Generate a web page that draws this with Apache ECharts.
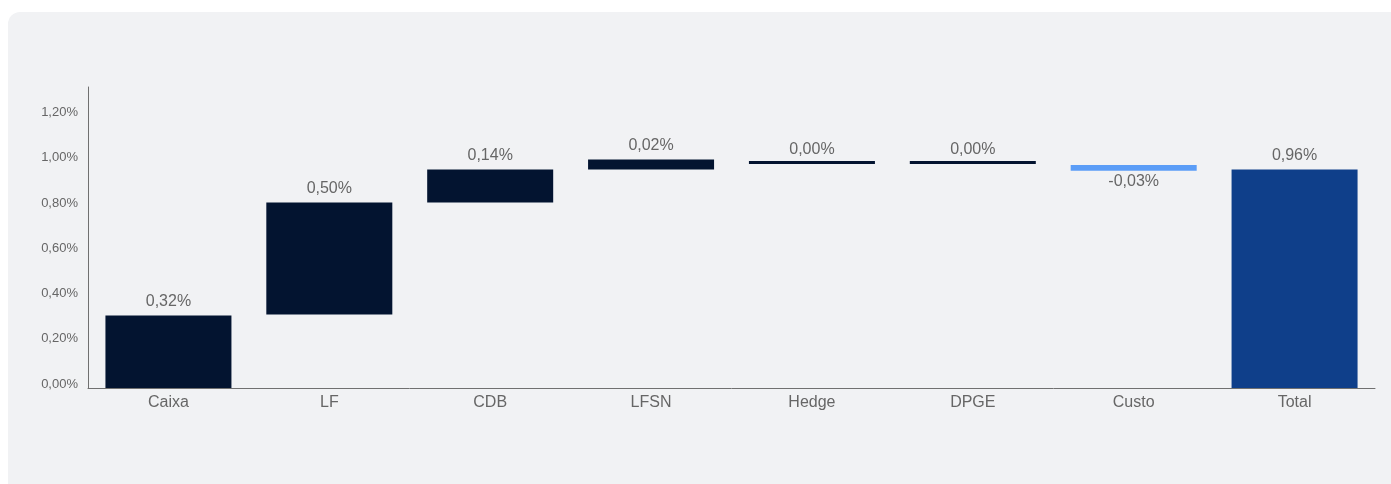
<!DOCTYPE html>
<html>
<head>
<meta charset="utf-8">
<script src="https://cdn.jsdelivr.net/npm/echarts@6/dist/echarts.min.js"></script>
<style>
  html, body { margin: 0; padding: 0; width: 1391px; height: 484px; overflow: hidden; background: #ffffff; }
  #card { position: absolute; left: 8px; top: 12px; right: -30px; bottom: -30px; background: #f1f2f4; border-radius: 12px; }
  #chart { position: absolute; left: 0; top: 0; width: 1391px; height: 484px; }
</style>
</head>
<body>
<div id="card"></div>
<div id="chart"></div>
<script>
// Categories
var categories = ['Caixa', 'LF', 'CDB', 'LFSN', 'Hedge', 'DPGE', 'Custo', 'Total'];
// Displayed contribution of each item (in %)
var contributions = [0.32, 0.50, 0.14, 0.02, 0.00, 0.00, -0.03, 0.96];
// Bar bottoms and tops (in %)
var barLow  = [0, 0.325, 0.82, 0.965, 0.99, 0.99, 0.96, 0];
var barHigh = [0.32, 0.82, 0.965, 1.01, 0.99, 0.99, 0.985, 0.965];
// Y tick values
var yTicks = [0, 0.2, 0.4, 0.6, 0.8, 1.0, 1.2];

var NAVY = '#031430', LIGHT = '#5b9df7', TOTAL = '#0f3f8a';
var fmt = function (v) { return v.toFixed(2).replace('.', ',') + '%'; };

var chart = echarts.init(document.getElementById('chart'), null, { renderer: 'canvas' });
var baseData = barLow.slice();
var deltaData = barHigh.map(function (h, i) {
  var c = i === categories.length - 1 ? TOTAL : (contributions[i] < 0 ? LIGHT : NAVY);
  var neg = contributions[i] < 0;
  var flat = h - barLow[i] === 0;
  return {
    value: +(h - barLow[i]).toFixed(4),
    itemStyle: { color: c },
    label: { position: neg ? 'bottom' : 'top', distance: neg ? 3 : (flat ? 3 : 6) }
  };
});

chart.setOption({
  animation: false,
  textStyle: { fontFamily: 'Liberation Sans, Arial, sans-serif' },
  grid: { left: 88, top: 87, right: 16, bottom: 96 },
  xAxis: {
    type: 'category',
    data: categories,
    axisTick: { show: false },
    axisLine: { lineStyle: { color: '#707070', width: 1 } },
    axisLabel: { color: '#666666', fontSize: 16, margin: 7 }
  },
  yAxis: {
    type: 'value',
    min: 0,
    max: 1.33,
    interval: 0.2,
    splitLine: { show: false },
    axisTick: { show: false },
    axisLine: { show: true, lineStyle: { color: '#707070', width: 1 } },
    axisLabel: {
      color: '#666666', fontSize: 13, margin: 10, showMaxLabel: false,
      verticalAlign: 'bottom', lineHeight: 8,
      formatter: function (v) { return fmt(v); }
    }
  },
  series: [
    {
      type: 'bar', stack: 'w', silent: true, barWidth: 126,
      itemStyle: { color: 'rgba(0,0,0,0)' },
      data: baseData
    },
    {
      type: 'bar', stack: 'w', barWidth: 126, barMinHeight: 3,
      data: deltaData,
      label: {
        show: true, color: '#666666', fontSize: 16,
        formatter: function (p) { return fmt(contributions[p.dataIndex]); }
      }
    }
  ]
});
</script>
</body>
</html>
